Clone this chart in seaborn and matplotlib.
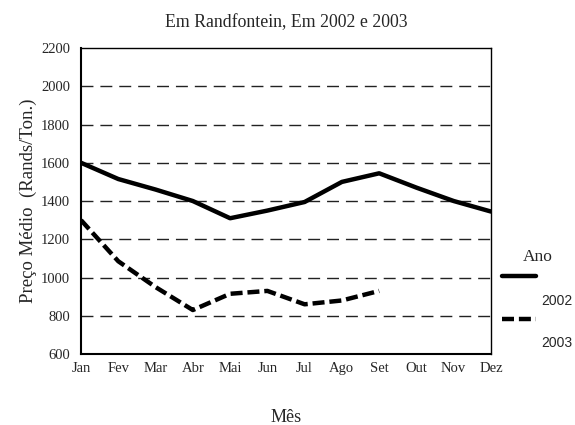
import pandas as pd
import numpy as np
import seaborn as sns
import matplotlib.pyplot as plt

meses = ["Jan", "Fev", "Mar", "Abr", "Mai", "Jun", "Jul", "Ago", "Set", "Out", "Nov", "Dez"]
preco_2002 = [1600, 1515, 1460, 1400, 1310, 1350, 1395, 1500, 1545, 1470, 1400, 1345]
preco_2003 = [1300, 1085, 950, 830, 915, 930, 860, 880, 930]
anos = ["2002", "2003"]


def build_frame():
    """Long table for seaborn."""
    rows = []
    for ano, vals in zip(anos, [preco_2002, preco_2003]):
        for i, v in enumerate(vals):
            rows.append({"idx": i, "Mês": meses[i], "Preço": v, "Ano": ano})
    return pd.DataFrame(rows)


if __name__ == "__main__":
    df = build_frame()
    sns.set_style("white")
    plt.rcParams['font.family'] = ['Liberation Serif', 'DejaVu Serif']
    plt.rc('font', size=10.5)

    fig = plt.figure(figsize=(5.75, 4.25), dpi=100)
    ax = fig.add_axes([0.1409, 0.167, 0.713, 0.72])

    sns.lineplot(data=df, x="idx", y="Preço", hue="Ano", style="Ano",
                 palette=["black", "black"], dashes=[(None, None), (2.7, 1.1)],
                 linewidth=3.2, ax=ax, legend=True)

    ax.set_xlim(0, 11)
    ax.set_ylim(600, 2200)
    ax.set_xticks(range(12))
    ax.set_xticklabels(meses)
    ax.set_yticks(np.arange(600, 2201, 200))
    for y in range(800, 2001, 200):
        ax.axhline(y, color="#222222", lw=1, ls=(0, (8.6, 5)), zorder=0)

    for s in ax.spines.values():
        s.set_color("black")
        s.set_linewidth(1)
    ax.spines["left"].set_linewidth(1.5)
    ax.spines["bottom"].set_linewidth(1.5)
    ax.tick_params(axis="x", direction="in", length=4, width=3, pad=6, labelsize=10.5)
    ax.tick_params(axis="y", length=0, pad=8, labelsize=10.5)

    ax.set_title("Em Randfontein, Em 2002 e 2003", fontsize=12.8, pad=15)
    ax.set_xlabel("Mês", fontsize=13, labelpad=24.5)
    ax.set_ylabel("Preço Médio  (Rands/Ton.)", fontsize=13.5, labelpad=3)

    handles, labels = ax.get_legend_handles_labels()
    leg = ax.legend(handles, labels, title="Ano",
                    loc="upper left", bbox_to_anchor=(0.852, 0.443),
                    bbox_transform=fig.transFigure, frameon=False,
                    handlelength=2.4, handletextpad=0.4, labelspacing=2.05,
                    prop={"family": "Liberation Sans", "size": 10},
                    title_fontsize=12.5)
    # handles sit above their labels in the reference
    for h in leg.legend_handles:
        h.set_ydata(np.asarray(h.get_ydata()) + 17)

    fig.savefig("out.png", dpi=100)
